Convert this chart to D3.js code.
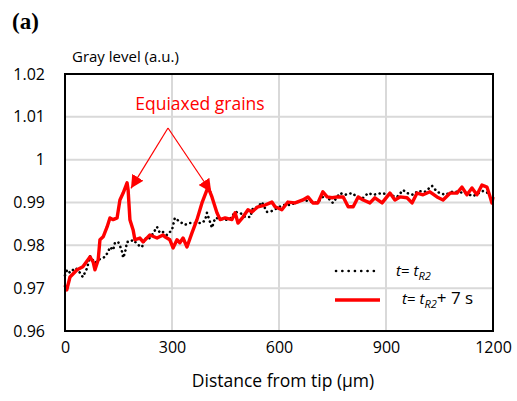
<!DOCTYPE html>
<html><head><meta charset="utf-8">
<script src="https://cdn.jsdelivr.net/npm/d3@7"></script>
<style>body{margin:0;background:#fff}svg{display:block}</style>
</head><body>
<svg id="chart" width="517" height="401"></svg>
<script>
const xTicks = [0, 300, 600, 900, 1200];
const yTicks = [0.96, 0.97, 0.98, 0.99, 1.00, 1.01, 1.02];
const yTickLabels = ["0.96", "0.97", "0.98", "0.99", "1", "1.01", "1.02"];

// t = tR2 (dotted black)
const blackX = [0,6,14,28,36,50,62,70,84,98,112,121,126,135,140,149,154,160,163,168,174,182,191,205,216,224,233,244,258,266,275,286,300,308,322,336,350,365,384,393,398,412,421,435,449,463,477,491,505,519,527,541,552,566,580,611,631,667,707,729,751,771,785,805,819,836,850,864,889,931,948,959,976,990,1009,1029,1043,1052,1066,1085,1099,1122,1144,1172,1186];
const blackY = [0.9730,0.9743,0.9736,0.9747,0.9743,0.9726,0.9747,0.9775,0.9759,0.9768,0.9773,0.9785,0.9796,0.9789,0.9806,0.9808,0.9799,0.9785,0.9771,0.9782,0.9808,0.9808,0.9813,0.9801,0.9796,0.9817,0.9813,0.9824,0.9843,0.9829,0.9831,0.9824,0.9836,0.9864,0.9855,0.9848,0.9852,0.9852,0.9852,0.9859,0.9876,0.9841,0.9864,0.9862,0.9859,0.9862,0.9878,0.9876,0.9866,0.9866,0.9887,0.9890,0.9901,0.9878,0.9880,0.9894,0.9894,0.9906,0.9899,0.9918,0.9899,0.9922,0.9918,0.9922,0.9913,0.9911,0.9922,0.9918,0.9922,0.9913,0.9929,0.9922,0.9918,0.9927,0.9925,0.9939,0.9925,0.9922,0.9918,0.9925,0.9925,0.9922,0.9915,0.9927,0.9922];

// t = tR2 + 7 s (red)
const redX = [0,5,14,34,50,70,79,84,93,98,107,118,126,135,146,154,163,174,177,182,191,196,210,219,238,258,275,280,294,303,314,322,331,342,356,370,384,401,412,426,435,449,468,477,485,499,513,524,541,561,580,589,608,625,645,667,681,695,709,723,735,749,763,780,794,808,822,836,855,869,889,911,925,939,959,973,987,1004,1023,1043,1060,1080,1099,1113,1127,1141,1155,1169,1183,1192,1197,1200];
const redY = [0.9707,0.9696,0.9726,0.9743,0.9750,0.9773,0.9761,0.9743,0.9766,0.9813,0.9820,0.9843,0.9864,0.9860,0.9864,0.9906,0.9922,0.9946,0.9929,0.9860,0.9836,0.9813,0.9817,0.9808,0.9824,0.9817,0.9824,0.9820,0.9813,0.9794,0.9813,0.9806,0.9817,0.9796,0.9829,0.9860,0.9899,0.9936,0.9913,0.9876,0.9860,0.9864,0.9860,0.9876,0.9852,0.9866,0.9883,0.9878,0.9890,0.9894,0.9901,0.9890,0.9883,0.9901,0.9899,0.9906,0.9913,0.9899,0.9899,0.9925,0.9913,0.9911,0.9913,0.9913,0.9890,0.9890,0.9913,0.9906,0.9899,0.9911,0.9899,0.9922,0.9906,0.9913,0.9911,0.9899,0.9922,0.9918,0.9925,0.9913,0.9906,0.9922,0.9922,0.9936,0.9918,0.9934,0.9918,0.9941,0.9936,0.9913,0.9899,0.9913];

// annotation: arrow tips at the two equiaxed-grain peaks (data units)
const annotTips = [[185, 0.9933], [410, 0.9924]];

const svg = d3.select("#chart");
const L = 65, T = 74, W = 428, H = 257;
const x = d3.scaleLinear().domain([0, 1200]).range([L, L + W]);
const y = d3.scaleLinear().domain([0.96, 1.02]).range([T + H, T]);
const font = "'Open Sans', 'Liberation Sans', sans-serif";

// gridlines
const g = svg.append("g");
g.selectAll(".gy").data(yTicks).join("line")
  .attr("x1", L).attr("x2", L + W).attr("y1", d => y(d)).attr("y2", d => y(d))
  .attr("stroke", "#d9d9d9").attr("stroke-width", 2);
g.selectAll(".gx").data(xTicks).join("line")
  .attr("y1", T).attr("y2", T + H).attr("x1", d => x(d)).attr("x2", d => x(d))
  .attr("stroke", "#d9d9d9").attr("stroke-width", 2);

// axes labels via d3 axes
const yAxis = d3.axisLeft(y).tickValues(yTicks).tickSize(0).tickPadding(0)
  .tickFormat((d, i) => yTickLabels[i]);
const ya = svg.append("g").attr("transform", `translate(${L - 20},0)`).call(yAxis);
ya.select(".domain").remove();
ya.selectAll("text").attr("font-family", font).attr("font-size", 16).attr("fill", "#000");

const xAxis = d3.axisBottom(x).tickValues(xTicks).tickSize(0).tickPadding(0).tickFormat(d3.format("d"));
const xa = svg.append("g").attr("transform", `translate(0,${T + H + 11})`).call(xAxis);
xa.select(".domain").remove();
xa.selectAll("text").attr("font-family", font).attr("font-size", 16).attr("fill", "#000");

// series
const lineGen = d3.line().x(d => x(d[0])).y(d => y(d[1]));
const blackData = blackX.map((v, i) => [v, blackY[i]]);
const redData = redX.map((v, i) => [v, redY[i]]);

svg.append("path").datum(blackData).attr("d", lineGen)
  .attr("fill", "none").attr("stroke", "#000").attr("stroke-width", 2.6)
  .attr("stroke-linecap", "round").attr("stroke-dasharray", "0.1,4.6");
svg.append("path").datum(redData).attr("d", lineGen)
  .attr("fill", "none").attr("stroke", "#ff0000").attr("stroke-width", 3.4)
  .attr("stroke-linejoin", "round");

// frame
svg.append("rect").attr("x", L).attr("y", T).attr("width", W).attr("height", H)
  .attr("fill", "none").attr("stroke", "#000").attr("stroke-width", 2);

// titles
svg.append("text").attr("x", 12).attr("y", 29).text("(a)")
  .attr("font-family", "'Liberation Serif', serif").attr("font-weight", "bold").attr("font-size", 23);
svg.append("text").attr("x", 72).attr("y", 62).text("Gray level (a.u.)")
  .attr("font-family", font).attr("font-size", 15);
svg.append("text").attr("x", 283).attr("y", 387).attr("text-anchor", "middle")
  .text("Distance from tip (µm)").attr("font-family", font).attr("font-size", 17.5);

// annotation
svg.append("text").attr("x", 200).attr("y", 110).attr("text-anchor", "middle")
  .text("Equiaxed grains").attr("font-family", font).attr("font-size", 17.5).attr("fill", "#ff0000");
const defs = svg.append("defs");
defs.append("marker").attr("id", "ah").attr("viewBox", "0 0 10 10").attr("refX", 10).attr("refY", 5)
  .attr("markerWidth", 13).attr("markerHeight", 13).attr("markerUnits", "userSpaceOnUse").attr("orient", "auto")
  .append("path").attr("d", "M0,0 L10,5 L0,10 Z").attr("fill", "#ff0000");
const apex = [168, 128];
annotTips.forEach(t => {
  svg.append("line").attr("x1", apex[0]).attr("y1", apex[1])
    .attr("x2", x(t[0])).attr("y2", y(t[1]))
    .attr("stroke", "#ff0000").attr("stroke-width", 1.2).attr("marker-end", "url(#ah)");
});

// legend
const lg = svg.append("g");
lg.append("line").attr("x1", 336).attr("x2", 380).attr("y1", 271).attr("y2", 271)
  .attr("stroke", "#000").attr("stroke-width", 2.6).attr("stroke-linecap", "round").attr("stroke-dasharray", "0.1,6.2");
lg.append("line").attr("x1", 335).attr("x2", 380).attr("y1", 300).attr("y2", 300)
  .attr("stroke", "#ff0000").attr("stroke-width", 3.4);
const t1 = lg.append("text").attr("x", 396).attr("y", 276).attr("font-family", font).attr("font-size", 15);
t1.append("tspan").attr("font-style", "italic").text("t");
t1.append("tspan").text("= ");
t1.append("tspan").attr("font-style", "italic").text("t");
t1.append("tspan").attr("font-style", "italic").attr("font-size", 11).attr("dy", 4).text("R2");
const t2 = lg.append("text").attr("x", 402).attr("y", 304).attr("font-family", font).attr("font-size", 15);
t2.append("tspan").attr("font-style", "italic").text("t");
t2.append("tspan").text("= ");
t2.append("tspan").attr("font-style", "italic").text("t");
t2.append("tspan").attr("font-style", "italic").attr("font-size", 11).attr("dy", 4).text("R2");
t2.append("tspan").attr("dy", -4).attr("font-size", 17).text("+ 7 s");
</script>
</body></html>
